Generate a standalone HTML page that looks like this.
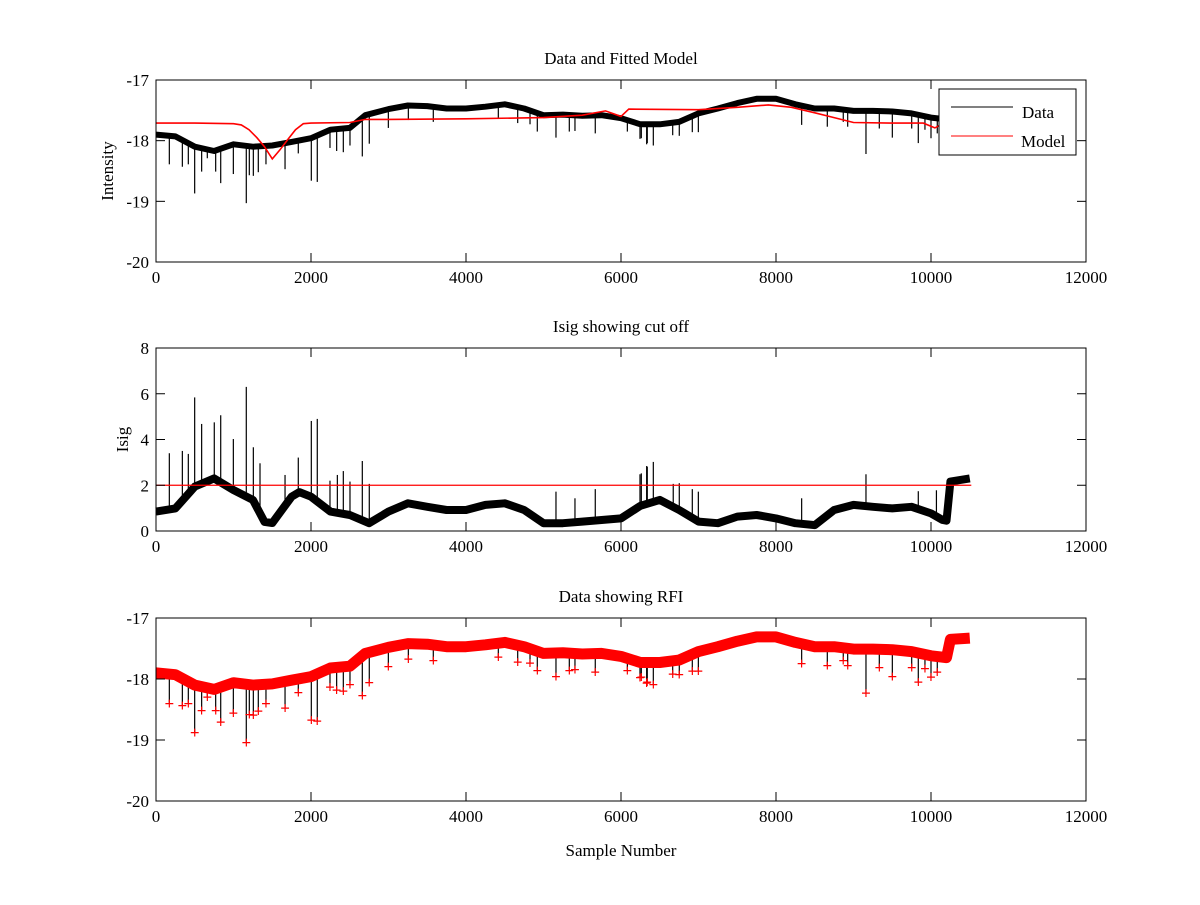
<!DOCTYPE html>
<html><head><meta charset="utf-8"><style>
body{margin:0;background:#fff}
svg text{font-family:"Liberation Serif",serif;font-size:17px;fill:#000}
</style></head><body>
<svg id="fig" width="1200" height="900" xmlns="http://www.w3.org/2000/svg"></svg>
<script>
// ---- data ----
const sampleIdx = [0,250,500,750,1000,1250,1500,1750,2000,2250,2500,2700,3000,3250,3500,3750,4000,4250,4500,4750,5000,5250,5500,5750,6000,6250,6500,6750,7000,7250,7500,7750,8000,8250,8500,8750,9000,9250,9500,9750,10000,10200,10250,10500];
const intensityBase = [-17.9,-17.93,-18.1,-18.17,-18.06,-18.1,-18.08,-18.02,-17.96,-17.82,-17.79,-17.58,-17.48,-17.42,-17.43,-17.47,-17.47,-17.44,-17.4,-17.47,-17.58,-17.57,-17.59,-17.58,-17.63,-17.73,-17.73,-17.69,-17.55,-17.47,-17.38,-17.31,-17.31,-17.4,-17.47,-17.47,-17.51,-17.51,-17.52,-17.55,-17.62,-17.65,-17.35,-17.33];
const modelIdx = [0,500,1000,1100,1200,1300,1400,1500,1600,1700,1800,1900,2000,2500,2700,3000,4000,5000,5500,5800,6000,6100,7000,7500,7900,8200,8500,8750,9000,9500,9900,10050,10150,10500];
const modelVals = [-17.71,-17.71,-17.72,-17.74,-17.82,-17.95,-18.1,-18.3,-18.15,-17.98,-17.82,-17.72,-17.71,-17.7,-17.65,-17.65,-17.64,-17.62,-17.58,-17.51,-17.6,-17.48,-17.49,-17.45,-17.41,-17.45,-17.54,-17.62,-17.7,-17.71,-17.71,-17.79,-17.72,-17.72];
const dipIdx = [172,340,417,499,589,662,770,835,998,1165,1204,1256,1320,1419,1665,1836,2004,2081,2245,2331,2417,2503,2662,2752,2998,3256,3578,4417,4667,4826,4920,5161,5333,5406,5668,6262,6339,6082,6245,6331,6417,6667,6752,6920,6998,8331,8662,8868,8925,9161,9333,9501,9751,9836,9922,10000,10081];
const dipVals = [-18.39,-18.43,-18.39,-18.87,-18.51,-18.29,-18.51,-18.7,-18.55,-19.03,-18.57,-18.58,-18.52,-18.39,-18.47,-18.21,-18.66,-18.68,-18.12,-18.17,-18.19,-18.08,-18.26,-18.05,-17.79,-17.66,-17.69,-17.63,-17.71,-17.73,-17.85,-17.95,-17.85,-17.84,-17.88,-17.96,-18.04,-17.85,-17.97,-18.06,-18.08,-17.91,-17.92,-17.86,-17.86,-17.74,-17.77,-17.69,-17.77,-18.22,-17.8,-17.95,-17.8,-18.04,-17.82,-17.96,-17.88];
const isigIdx = [0,250,500,750,1000,1250,1400,1500,1750,1850,2000,2250,2500,2750,3000,3250,3500,3750,4000,4250,4500,4750,5000,5250,5500,5750,6000,6250,6500,6750,7000,7250,7500,7750,8000,8250,8500,8750,9000,9250,9500,9750,10000,10150,10200,10250,10500];
const isigBase = [0.85,0.99,1.94,2.3,1.79,1.36,0.4,0.35,1.5,1.7,1.5,0.85,0.7,0.34,0.85,1.21,1.06,0.92,0.92,1.14,1.21,0.92,0.34,0.34,0.41,0.48,0.55,1.1,1.36,0.92,0.41,0.34,0.63,0.7,0.55,0.34,0.26,0.92,1.14,1.06,0.99,1.06,0.77,0.48,0.45,2.16,2.3];
const isigSpikeIdx = [172,340,417,499,589,752,835,998,1165,1256,1342,1665,1836,2004,2081,2245,2340,2417,2503,2662,2752,5161,5406,5668,6262,6339,6245,6331,6417,6674,6752,6920,6998,8331,9161,9836,10070];
const isigSpikeVals = [3.4,3.5,3.37,5.84,4.68,4.75,5.06,4.02,6.3,3.66,2.96,2.45,3.21,4.81,4.9,2.2,2.45,2.62,2.16,3.06,2.06,1.72,1.43,1.83,2.52,2.81,2.48,2.84,3.02,2.06,2.09,1.83,1.72,1.43,2.48,1.74,1.78];
const cutoff = 2;
const xTicks = [0,2000,4000,6000,8000,10000,12000];
const intTicks = [-17,-18,-19,-20];
const isigTicks = [0,2,4,6,8];

const NS = "http://www.w3.org/2000/svg";
const svg = document.getElementById('fig');
function el(tag, attrs, parent){const e=document.createElementNS(NS,tag);for(const k in attrs)e.setAttribute(k,attrs[k]);(parent||svg).appendChild(e);return e;}

function makeAxes(name, top, bottom, ymin, ymax, yticks, title, ylabel, ylabelX){
  const L=156,R=1086;
  const g=el('g',{});
  
  
  const xs=v=>L+(v/12000)*(R-L);
  const ys=v=>bottom-(v-ymin)/(ymax-ymin)*(bottom-top);
  const plot=el('g',{},g);
  
  
  const frame=el('rect',{x:L,y:top,width:R-L,height:bottom-top,fill:'none',stroke:'#000','stroke-width':1},g);
  
  
  xTicks.forEach(t=>{
    const x=xs(t);
    el('line',{x1:x,y1:bottom,x2:x,y2:bottom-9,stroke:'#000'},g);
    el('line',{x1:x,y1:top,x2:x,y2:top+9,stroke:'#000'},g);
    const tx=el('text',{x:x,y:bottom+21,'text-anchor':'middle'},g);
    tx.textContent=t;
    
    
  });
  yticks.forEach(t=>{
    const y=ys(t);
    el('line',{x1:L,y1:y,x2:L+9,y2:y,stroke:'#000'},g);
    el('line',{x1:R,y1:y,x2:R-9,y2:y,stroke:'#000'},g);
    const tx=el('text',{x:L-7,y:y+6,'text-anchor':'end'},g);
    tx.textContent=t;
    
    
  });
  const tt=el('text',{x:(L+R)/2,y:top-16,'text-anchor':'middle'},g);
  tt.textContent=title;
  
  
  if(ylabel){
    const cy=(top+bottom)/2;
    const yl=el('text',{x:ylabelX,y:cy,'text-anchor':'middle',transform:`rotate(-90 ${ylabelX} ${cy})`},g);
    yl.textContent=ylabel;
    
    
  }
  return {xs,ys,plot};
}
function pts(ax,xa,ya){return xa.map((x,i)=>ax.xs(x).toFixed(1)+','+ax.ys(ya[i]).toFixed(1)).join(' ');}
function spikes(ax,base,bx,sx,sv,color,parent,name){
  sx.forEach((s,i)=>{
    let k=0;while(k<bx.length-2&&bx[k+1]<s)k++;
    const b=base[k]+(base[k+1]-base[k])*(s-bx[k])/(bx[k+1]-bx[k]);
    const ln=el('line',{x1:ax.xs(s),y1:ax.ys(b),x2:ax.xs(s),y2:ax.ys(sv[i]),stroke:color,'stroke-width':1.2},parent);
    
    
  });
}

// ---- panel 1 ----
const a1=makeAxes('data-model-panel',80,262,-20,-17,intTicks,'Data and Fitted Model','Intensity',113);
spikes(a1,intensityBase,sampleIdx,dipIdx,dipVals,'#000',a1.plot,'data-dip');
const d1=el('polyline',{points:pts(a1,sampleIdx,intensityBase),fill:'none',stroke:'#000','stroke-width':6,'stroke-linejoin':'round'},a1.plot);


const m1=el('polyline',{points:pts(a1,modelIdx,modelVals),fill:'none',stroke:'#f00','stroke-width':1.6},a1.plot);


// legend
const lg=el('g',{});


el('rect',{x:939,y:89,width:137,height:66,fill:'#fff',stroke:'#000'},lg);
el('line',{x1:951,y1:107,x2:1013,y2:107,stroke:'#000'},lg);
el('line',{x1:951,y1:136,x2:1013,y2:136,stroke:'#f00'},lg);
const lt1=el('text',{x:1022,y:118},lg);lt1.textContent='Data';


const lt2=el('text',{x:1021,y:147},lg);lt2.textContent='Model';



// ---- panel 2 ----
const a2=makeAxes('isig-panel',348,531,0,8,isigTicks,'Isig showing cut off','Isig',128);
spikes(a2,isigBase,isigIdx,isigSpikeIdx,isigSpikeVals,'#000',a2.plot,'isig-spike');
const d2=el('polyline',{points:pts(a2,isigIdx,isigBase),fill:'none',stroke:'#000','stroke-width':8,'stroke-linejoin':'round'},a2.plot);


const c2=el('line',{x1:a2.xs(0),y1:a2.ys(cutoff),x2:a2.xs(10520),y2:a2.ys(cutoff),stroke:'#f00','stroke-width':1.2},a2.plot);



// ---- panel 3 ----
const a3=makeAxes('rfi-panel',618,801,-20,-17,intTicks,'Data showing RFI',null,0);
spikes(a3,intensityBase,sampleIdx,dipIdx,dipVals,'#000',a3.plot,'rfi-dip');
const d3=el('polyline',{points:pts(a3,sampleIdx,intensityBase),fill:'none',stroke:'#f00','stroke-width':11,'stroke-linejoin':'round'},a3.plot);


dipIdx.forEach((s,i)=>{
  const t=el('text',{x:a3.xs(s),y:a3.ys(dipVals[i])+6,'text-anchor':'middle',style:'fill:#f00;font-size:17px;font-weight:bold'},a3.plot);
  t.textContent='+';
  
  
});
const xl=el('text',{x:621,y:856,'text-anchor':'middle'});
xl.textContent='Sample Number';


</script>
</body></html>
